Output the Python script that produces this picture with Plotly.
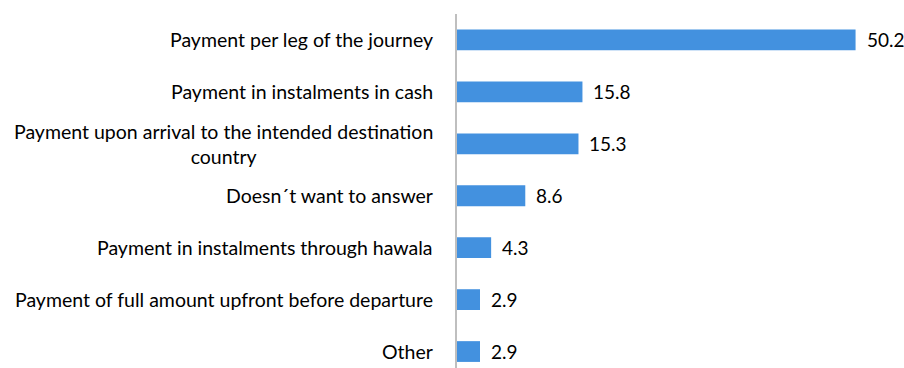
import plotly.graph_objects as go

categories = [
    "Payment per leg of the journey",
    "Payment in instalments in cash",
    "Payment upon arrival to the intended destination<br>country",
    "Doesn´t want to answer",
    "Payment in instalments through hawala",
    "Payment of full amount upfront before departure",
    "Other",
]
values = [50.2, 15.8, 15.3, 8.6, 4.3, 2.9, 2.9]
value_labels = ["50.2", "15.8", "15.3", "8.6", "4.3", "2.9", "2.9"]

FONT = "Lato"
BAR_COLOR = "#4391DF"
positions = list(range(len(categories)))

fig = go.Figure(
    go.Bar(
        x=values,
        y=positions,
        orientation="h",
        width=0.4,
        marker=dict(color=BAR_COLOR, line=dict(width=0)),
        hoverinfo="skip",
    )
)

annotations = []
for pos, cat in zip(positions, categories):
    annotations.append(dict(
        x=0, xref="paper", y=pos, yref="y",
        text=cat, showarrow=False, xanchor="right", yanchor="middle",
        align="center", xshift=-22,
        font=dict(family=FONT, size=19.5, color="#000000"),
    ))
for pos, val, lab in zip(positions, values, value_labels):
    annotations.append(dict(
        x=val, xref="x", y=pos, yref="y",
        text=lab, showarrow=False, xanchor="left", yanchor="middle",
        xshift=9,
        font=dict(family=FONT, size=19, color="#000000"),
    ))

fig.update_layout(
    width=904, height=368,
    margin=dict(l=457, r=0, t=13.5, b=0, pad=0),
    paper_bgcolor="white", plot_bgcolor="white",
    showlegend=False,
    annotations=annotations,
    xaxis=dict(range=[0, 56.3], visible=False, fixedrange=True),
    yaxis=dict(
        range=[6.317, -0.5],
        showticklabels=False, ticks="",
        showgrid=False, zeroline=False,
        showline=True, linecolor="#BFBFBF", linewidth=1.5,
        fixedrange=True,
    ),
)

fig.write_html("out.html")
